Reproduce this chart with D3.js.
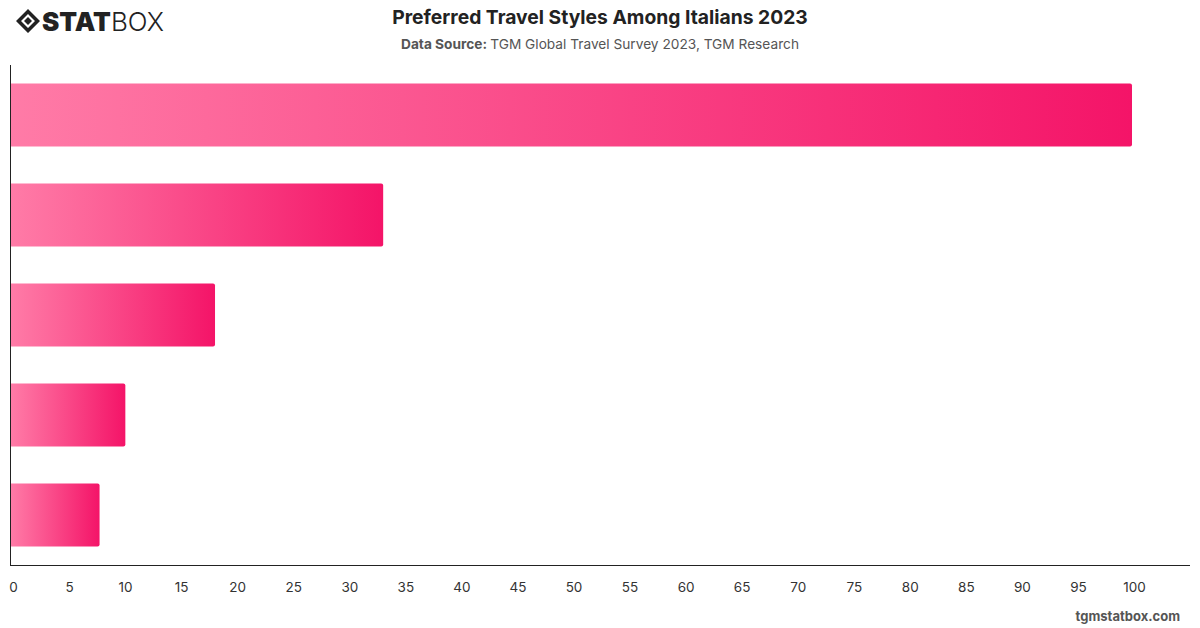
<!DOCTYPE html>
<html>
<head>
<meta charset="utf-8">
<script src="https://cdn.jsdelivr.net/npm/d3@7"></script>
<style>
body { margin: 0; background: #fff; }
svg { display: block; font-family: Inter, "Noto Sans", sans-serif; }
</style>
</head>
<body>
<script>
var w = 1200;
var h = 628;

// travel styles (labels are not shown on the chart)
var categories = ["Style 1", "Style 2", "Style 3", "Style 4", "Style 5"];
var values = [100, 33.2, 18.2, 10.2, 7.9];
var tickValues = [0,5,10,15,20,25,30,35,40,45,50,55,60,65,70,75,80,85,90,95,100];

var padL = 10, padR = 1190, padT = 65, padB = 565;

var svg = d3.select("body").append("svg").attr("width", w).attr("height", h);

var defs = svg.append("defs");
var grad = defs.append("linearGradient").attr("id", "barGrad")
  .attr("x1", "0%").attr("x2", "100%").attr("y1", "0%").attr("y2", "0%");
grad.append("stop").attr("offset", "0%").attr("stop-color", "#ff7ba7");
grad.append("stop").attr("offset", "100%").attr("stop-color", "#f41468");

var x = d3.scaleLinear().domain([0, 100]).range([padL + 1, 1132]);
var y = d3.scaleBand().domain(categories).range([padT, padB])
  .paddingInner(0.37).paddingOuter(0.185);

// bars with rounded right end
svg.selectAll("path.bar")
  .data(values)
  .enter()
  .append("path")
  .attr("class", "bar")
  .attr("fill", "url(#barGrad)")
  .attr("d", function(d, i) {
    var x0 = x(0), x1 = x(d), y0 = y(categories[i]), bh = y.bandwidth(), r = 2;
    return "M" + x0 + "," + y0 + "H" + (x1 - r) + "Q" + x1 + "," + y0 + " " + x1 + "," + (y0 + r) +
      "V" + (y0 + bh - r) + "Q" + x1 + "," + (y0 + bh) + " " + (x1 - r) + "," + (y0 + bh) + "H" + x0 + "Z";
  });

// axes
svg.append("line").attr("x1", padL + 0.5).attr("x2", padL + 0.5).attr("y1", padT).attr("y2", padB)
  .attr("stroke", "#222").attr("stroke-width", 1);
svg.append("line").attr("x1", padL).attr("x2", padR).attr("y1", padB + 0.5).attr("y2", padB + 0.5)
  .attr("stroke", "#222").attr("stroke-width", 1);

var xAxis = svg.append("g").attr("transform", "translate(2," + padB + ")")
  .call(d3.axisBottom(x).tickValues(tickValues).tickSize(0).tickPadding(17).tickFormat(d3.format("d")));
xAxis.select(".domain").remove();
xAxis.selectAll("text").attr("font-size", 13.5).attr("fill", "#333").attr("font-family", "Inter, sans-serif");

// title
svg.append("text").attr("x", 600).attr("y", 24).attr("text-anchor", "middle")
  .attr("font-size", 19.3).attr("font-weight", 700).attr("fill", "#222")
  .text("Preferred Travel Styles Among Italians 2023");
var sub = svg.append("text").attr("x", 600).attr("y", 49).attr("text-anchor", "middle")
  .attr("font-size", 13.7).attr("fill", "#555");
sub.append("tspan").attr("font-weight", 700).text("Data Source: ");
sub.append("tspan").text("TGM Global Travel Survey 2023, TGM Research");

// footer
svg.append("text").attr("x", 1180).attr("y", 621).attr("text-anchor", "end")
  .attr("font-size", 13).attr("font-weight", 700).attr("fill", "#555")
  .text("tgmstatbox.com");

// logo
var logo = svg.append("g").attr("transform", "translate(28,21)");
logo.append("path").attr("d", "M0,-12 L12,0 L0,12 L-12,0 Z M0,-7 L-7,0 L0,7 L7,0 Z")
  .attr("fill", "#222").attr("fill-rule", "evenodd");
logo.append("path").attr("d", "M0,-4 L4,0 L0,4 L-4,0 Z").attr("fill", "#222");
var lt = svg.append("text").attr("x", 42).attr("y", 31).attr("font-size", 26).attr("fill", "#222");
lt.append("tspan").attr("font-weight", 900).attr("font-family", "Inter, sans-serif").text("STAT");
lt.append("tspan").attr("font-weight", 300).attr("font-family", "Inter, sans-serif").text("BOX");
</script>
</body>
</html>
